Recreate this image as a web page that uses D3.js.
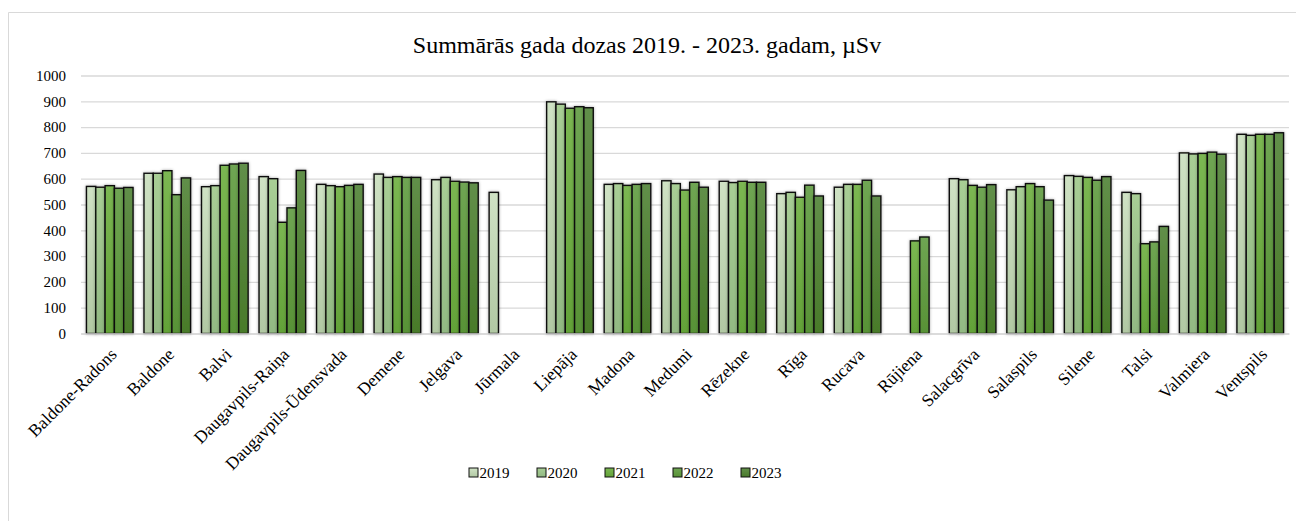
<!DOCTYPE html>
<html>
<head>
<meta charset="utf-8">
<script src="https://cdn.jsdelivr.net/npm/d3@7"></script>
<style>
  body { margin: 0; background: #fff; }
  svg text { font-family: "Liberation Serif", "Times New Roman", Times, serif; fill: #000; }
</style>
</head>
<body>
<svg width="1296" height="521"></svg>
<script>
const stations = ['Baldone-Radons', 'Baldone', 'Balvi', 'Daugavpils-Raiņa', 'Daugavpils-Ūdensvada',
  'Demene', 'Jelgava', 'Jūrmala', 'Liepāja', 'Madona', 'Medumi', 'Rēzekne', 'Rīga', 'Rucava',
  'Rūjiena', 'Salacgrīva', 'Salaspils', 'Silene', 'Talsi', 'Valmiera', 'Ventspils'];
const years = ['2019', '2020', '2021', '2022', '2023'];

const y2019 = [570, 621, 569, 608, 578, 618, 596, 547, 898, 578, 592, 590, 542, 567, null, 600, 557, 612, 547, 700, 772];
const y2020 = [567, 621, 573, 600, 573, 605, 605, null, 889, 581, 581, 585, 547, 578, null, 596, 569, 609, 542, 696, 768];
const y2021 = [573, 631, 652, 431, 569, 608, 590, null, 873, 574, 556, 590, 528, 578, 359, 574, 581, 605, 348, 698, 772];
const y2022 = [563, 538, 657, 487, 574, 605, 587, null, 879, 578, 586, 586, 575, 594, 374, 567, 569, 594, 355, 703, 772];
const y2023 = [566, 603, 660, 632, 578, 605, 584, null, 875, 581, 567, 586, 533, 533, null, 577, 517, 608, 415, 695, 778];
const series = [y2019, y2020, y2021, y2022, y2023];

const yTicks = [0, 100, 200, 300, 400, 500, 600, 700, 800, 900, 1000];
const title = 'Summārās gada dozas 2019. - 2023. gadam, µSv';
const serif = '"Liberation Serif", "Times New Roman", Times, serif';

const svg = d3.select('svg');
const width = +svg.attr('width');

const margin = {top: 75.5, left: 81, right: 7, bottom: 187.5};
const innerWidth = width - margin.left - margin.right;
const innerHeight = 333.5 - margin.top;

const topColors = ['#cfe2c4', '#a8ce95', '#7bb752', '#6fa553', '#618f49'];
const bottomColors = ['#b1c8a3', '#92b983', '#63a238', '#589236', '#497a2a'];

const defs = svg.append('defs');
years.forEach((yr, i) => {
  const grad = defs.append('linearGradient')
    .attr('id', 'g' + yr)
    .attr('x1', 0).attr('y1', 0).attr('x2', 0).attr('y2', 1);
  grad.append('stop').attr('offset', '0%').attr('stop-color', topColors[i]);
  grad.append('stop').attr('offset', '100%').attr('stop-color', bottomColors[i]);
});
const shadow = defs.append('filter').attr('id', 'shadow')
  .attr('x', '-50%').attr('y', '-10%').attr('width', '200%').attr('height', '120%');
shadow.append('feDropShadow')
  .attr('dx', 0).attr('dy', 0).attr('stdDeviation', 1.6)
  .attr('flood-color', '#000').attr('flood-opacity', 0.35);

// chart border (right and bottom edges run off the page)
svg.append('path')
  .attr('d', 'M8.5,521 V12.5 H1296')
  .attr('fill', 'none').attr('stroke', '#d9d9d9').attr('stroke-width', 1);

svg.append('text')
  .attr('x', 647).attr('y', 53)
  .attr('text-anchor', 'middle')
  .attr('font-family', serif)
  .style('font-size', '24px')
  .text(title);

const xScale = d3.scaleBand()
  .domain(stations)
  .range([0, innerWidth])
  .paddingInner(0.19)
  .paddingOuter(0.095);

const xSub = d3.scaleBand()
  .domain(years)
  .range([0, xScale.bandwidth()]);

const yScale = d3.scaleLinear()
  .domain([0, 1000])
  .range([innerHeight, 0]);

const g = svg.append('g')
  .attr('transform', `translate(${margin.left},${margin.top})`);

const yAxis = d3.axisLeft(yScale)
  .tickValues(yTicks)
  .tickFormat(d3.format('d'))
  .tickSize(-innerWidth)
  .tickPadding(15);

const yAxisG = g.append('g').call(yAxis)
  .attr('font-family', serif);
yAxisG.select('.domain').remove();
yAxisG.selectAll('.tick line').attr('stroke', '#d9d9d9').attr('stroke-width', 1.3);
yAxisG.selectAll('.tick text')
  .attr('font-family', serif)
  .style('font-size', '15px');

const groups = g.selectAll('.station').data(stations)
  .enter().append('g')
    .attr('class', 'station')
    .attr('transform', d => `translate(${xScale(d)},0)`);

groups.selectAll('rect')
  .data((d, i) => years.map((yr, j) => ({year: yr, value: series[j][i]})).filter(d => d.value != null))
  .enter().append('rect')
    .attr('x', d => xSub(d.year))
    .attr('y', d => yScale(d.value))
    .attr('width', xSub.bandwidth())
    .attr('height', d => innerHeight - yScale(d.value))
    .attr('fill', d => `url(#g${d.year})`)
    .attr('stroke', '#111')
    .attr('stroke-width', 1.4)
    .attr('filter', 'url(#shadow)');

const xAxis = d3.axisBottom(xScale).tickSize(0).tickPadding(0);
const xAxisG = g.append('g').call(xAxis)
  .attr('font-family', serif)
  .attr('transform', `translate(0,${innerHeight})`);
xAxisG.select('.domain').attr('stroke', '#d9d9d9').attr('stroke-width', 1.3);
xAxisG.selectAll('.tick text')
  .attr('font-family', serif)
  .style('font-size', '17.5px')
  .attr('text-anchor', 'end')
  .attr('dy', 0)
  .attr('transform', 'translate(8,22) rotate(-45)');

// legend
const legend = svg.append('g').attr('transform', 'translate(469,468)');
const item = legend.selectAll('g').data(years)
  .enter().append('g')
    .attr('transform', (d, i) => `translate(${i * 68},0)`);
item.append('rect')
  .attr('width', 9).attr('height', 9)
  .attr('fill', d => `url(#g${d})`)
  .attr('stroke', '#111').attr('stroke-width', 1);
item.append('text')
  .attr('x', 10.5).attr('y', 10)
  .attr('font-family', serif)
  .style('font-size', '15px')
  .text(d => d);
</script>
</body>
</html>
